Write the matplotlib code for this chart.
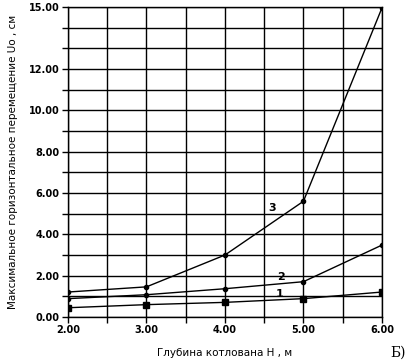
import matplotlib.pyplot as plt
import numpy as np

# depth of pit H, m
H = [2.0, 3.0, 4.0, 5.0, 6.0]
# max horizontal displacement Uo, cm (curves 1, 2, 3)
U1 = [0.45, 0.60, 0.71, 0.89, 1.21]
U2 = [0.89, 1.08, 1.37, 1.71, 3.48]
U3 = [1.21, 1.46, 3.00, 5.60, 14.95]
curve_names = ['1', '2', '3']
x_ticks = [2.0, 3.0, 4.0, 5.0, 6.0]
y_ticks = [0.0, 2.0, 4.0, 6.0, 8.0, 10.0, 12.0, 15.0]

plt.rcParams['font.family'] = ['DejaVu Sans']
fig = plt.figure(figsize=(4.12, 3.64), dpi=100)
ax = fig.add_axes([0.165, 0.129, 0.762, 0.852])

ax.plot(H, U1, color='black', lw=1.0, marker='s', ms=4)
ax.plot(H, U2, color='black', lw=1.0, marker='o', ms=3)
ax.plot(H, U3, color='black', lw=1.0, marker='o', ms=3)

ax.set_xlim(2, 6)
ax.set_ylim(0, 15)
ax.set_xticks(np.arange(2, 6.01, 0.5), minor=True)
ax.set_yticks(np.arange(0, 15.01, 1), minor=True)
ax.set_xticks(x_ticks)
ax.set_xticklabels(['%.2f' % v for v in x_ticks], fontsize=7, fontweight='bold')
ax.set_yticks(y_ticks)
ax.set_yticklabels(['%.2f' % v for v in y_ticks], fontsize=7, fontweight='bold')
ax.tick_params(which='both', direction='out', length=4, width=1.0, pad=2)
ax.grid(which='both', color='black', lw=1.0)
for s in ax.spines.values():
    s.set_linewidth(1.0)

ax.text(4.6, 5.27, curve_names[2], fontsize=8, fontweight='bold', ha='center', va='center')
ax.text(4.71, 1.95, curve_names[1], fontsize=8, fontweight='bold', ha='center', va='center')
ax.text(4.69, 1.1, curve_names[0], fontsize=8, fontweight='bold', ha='center', va='center')

ax.set_xlabel('Глубина котлована H , м', fontsize=7.5, labelpad=9)
ax.set_ylabel('Максимальное горизонтальное перемещение Uo , см', fontsize=7.5, labelpad=8)
fig.text(0.985, 0.02, 'Б)', fontsize=10, family='DejaVu Serif', ha='right')

plt.savefig('out.png', dpi=100)
